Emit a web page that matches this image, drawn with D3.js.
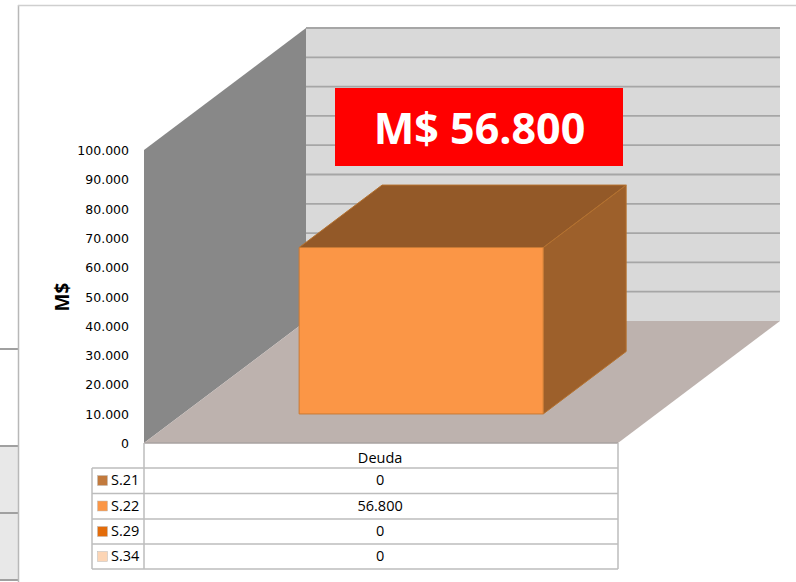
<!DOCTYPE html>
<html><head><meta charset="utf-8">
<script src="https://cdn.jsdelivr.net/npm/d3@7"></script>
<style>html,body{margin:0;padding:0;background:#fff}svg{display:block}</style>
</head><body><svg id="c" width="796" height="582"></svg>
<script>
const categories = ["Deuda"];
const seriesNames = ["S.21","S.22","S.29","S.34"];
const seriesValues = [0,56800,0,0];
const seriesLabels = ["0","56.800","0","0"];
const seriesColors = ["#c27a3d","#fb9646","#e36c0a","#fcd5b5"];
const yTicks = [0,10000,20000,30000,40000,50000,60000,70000,80000,90000,100000];
const tickLabels = ["0","10.000","20.000","30.000","40.000","50.000","60.000","70.000","80.000","90.000","100.000"];
const calloutText = "M$ 56.800";
const axisTitle = "M$";

const svg = d3.select("#c");
const left=144, right=618, base=443, top0=150, depthX=162, depthY=122;
const y = d3.scaleLinear().domain([0,100000]).range([base,top0]);
const x = d3.scaleBand().domain(categories).range([left,right]).paddingInner(0).paddingOuter(0.471).align(0.507);
const pts = a => a.map(p=>p.join(",")).join(" ");
const proj = (px,py,d) => [px+depthX*d, py-depthY*d];

// page fragments at left
svg.append("rect").attr("x",0).attr("y",447).attr("width",18).attr("height",134).attr("fill","#e8e8e8");
[349,446,513,580].forEach(v=>svg.append("line").attr("x1",0).attr("x2",18).attr("y1",v).attr("y2",v).attr("stroke","#a0a0a0").attr("stroke-width",2));
svg.append("line").attr("x1",18.5).attr("x2",18.5).attr("y1",5).attr("y2",582).attr("stroke","#b8b8b8").attr("stroke-width",1.5);
svg.append("line").attr("x1",18).attr("x2",796).attr("y1",5.5).attr("y2",5.5).attr("stroke","#cfcfcf").attr("stroke-width",1.5);

// walls
svg.append("polygon").attr("fill","#d9d9d9").attr("points",pts([proj(left,y(100000),1),proj(right,y(100000),1),proj(right,base,1),proj(left,base,1)]));
svg.append("polygon").attr("fill","#888888").attr("points",pts([[left,y(100000)],proj(left,y(100000),1),proj(left,base,1),[left,base]]));
svg.append("polygon").attr("fill","#bdb2ae").attr("points",pts([[left,base],[right,base],proj(right,base,1),proj(left,base,1)]));
svg.append("line").attr("x1",left).attr("x2",right).attr("y1",base).attr("y2",base).attr("stroke","#a8a2a0").attr("stroke-width",1.5);

// gridlines on back wall
svg.append("g").selectAll("line").data(yTicks.slice(1)).join("line")
  .attr("x1",d=>proj(left,y(d),1)[0]).attr("x2",d=>proj(right,y(d),1)[0])
  .attr("y1",d=>proj(left,y(d),1)[1]).attr("y2",d=>proj(left,y(d),1)[1])
  .attr("stroke","#a6a6a6").attr("stroke-width",1.8);

// bar
const d0=0.238, d1=0.75;
seriesValues.forEach((v,i)=>{
  if(v<=0) return;
  const a=x(categories[0]), b=a+x.bandwidth(), c=seriesColors[i];
  const g=svg.append("g").attr("stroke-linejoin","round");
  g.append("polygon").attr("fill","#9d602b").attr("stroke","#b5722f").attr("points",pts([proj(b,y(0),d0),proj(b,y(v),d0),proj(b,y(v),d1),proj(b,y(0),d1)]));
  g.append("polygon").attr("fill","#935928").attr("stroke","#b5722f").attr("points",pts([proj(a,y(v),d0),proj(b,y(v),d0),proj(b,y(v),d1),proj(a,y(v),d1)]));
  g.append("polygon").attr("fill",c).attr("stroke","#c97a35").attr("points",pts([proj(a,y(0),d0),proj(b,y(0),d0),proj(b,y(v),d0),proj(a,y(v),d0)]));
});

// callout
svg.append("rect").attr("x",335).attr("y",88).attr("width",288).attr("height",78).attr("fill","#ff0000");
svg.append("text").attr("x",479.5).attr("y",144).attr("text-anchor","middle").attr("fill","#fff")
  .style("font","700 43px 'Open Sans'").text(calloutText);

// y axis labels
svg.append("g").selectAll("text").data(yTicks).join("text")
  .attr("x",129).attr("y",d=>y(d)+5).attr("text-anchor","end")
  .style("font","12.5px 'DejaVu Sans'").attr("fill","#000").text((d,i)=>tickLabels[i]);
svg.append("text").attr("transform","translate(69,297) rotate(-90)").attr("text-anchor","middle")
  .style("font","700 19px 'Open Sans'").attr("fill","#000").text(axisTitle);

// data table
const rows=[468,493.5,519,544,569];
const tc="#bdbdbd";
const tbl=svg.append("g").attr("stroke",tc).attr("stroke-width",1.5);
rows.forEach(r=>tbl.append("line").attr("x1",92).attr("x2",right).attr("y1",r).attr("y2",r));
tbl.append("line").attr("x1",144).attr("x2",144).attr("y1",base).attr("y2",569);
tbl.append("line").attr("x1",92).attr("x2",92).attr("y1",468).attr("y2",569);
tbl.append("line").attr("x1",right).attr("x2",right).attr("y1",base).attr("y2",569);
const font="500 14.5px 'Open Sans'";
const labelX=x(categories[0])+x.bandwidth()/2-2.5;
svg.append("text").attr("x",labelX).attr("y",463).attr("text-anchor","middle").style("font",font).attr("fill","#000").text(categories[0]);
seriesNames.forEach((n,i)=>{
  const yy=rows[i];
  svg.append("rect").attr("x",97.5).attr("y",yy+7.5).attr("width",10).attr("height",10).attr("fill",seriesColors[i]).attr("stroke","#bbb").attr("stroke-width",0.5);
  svg.append("text").attr("x",111).attr("y",yy+17).style("font",font).attr("fill","#000").text(n);
  svg.append("text").attr("x",labelX).attr("y",yy+17).attr("text-anchor","middle").style("font",font).attr("fill","#000").text(seriesLabels[i]);
});
</script></body></html>
